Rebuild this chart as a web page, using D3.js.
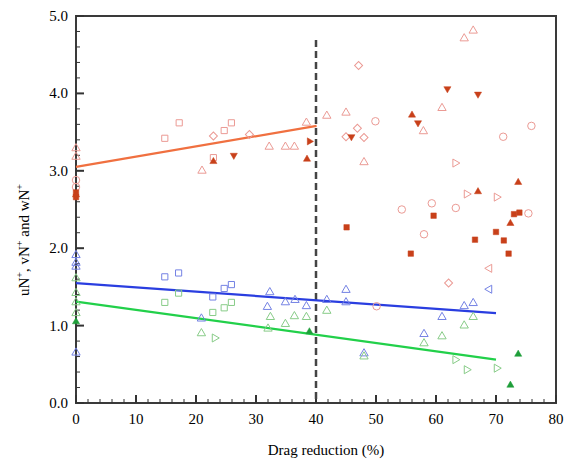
<!DOCTYPE html>
<html>
<head>
<meta charset="utf-8">
<script src="https://cdn.jsdelivr.net/npm/d3@7"></script>
<style>
  body { margin: 0; background: #fff; }
  text { font-family: "Liberation Serif", "Times New Roman", serif; }
</style>
</head>
<body>
<div class="main"></div>
<script>
// ---- data: [drag reduction %, value] ----
var redSquareOpen = [[14.8,3.42],[17.2,3.62],[24.7,3.52],[25.9,3.62],[22.9,3.17]];
var redDiamondOpen = [[22.9,3.45],[28.9,3.47],[47.1,4.36],[46.9,3.55],[45,3.44],[48,3.43],[62.1,1.55]];
var redCircleOpen = [[49.9,3.64],[71.2,3.44],[75.9,3.58],[59.3,2.58],[54.3,2.50],[63.3,2.52],[75.4,2.45],[58,2.18],[50.1,1.25],[0,2.88],[0,2.79]];
var redTriOpen = [[21,3.0],[32.2,3.31],[34.9,3.31],[36.4,3.31],[38.4,3.62],[41.8,3.71],[45,3.75],[48,3.11],[57.9,3.51],[61,3.81],[64.7,4.71],[66.2,4.81],[0,3.29],[0,3.18]];
var redRightOpen = [[63.2,3.10],[65.1,2.70],[70.1,2.66]];
var redLeftOpen = [[68.9,1.74]];
var redSquareFilled = [[59.6,2.42],[73,2.44],[73.9,2.46],[70,2.21],[66.5,2.11],[71.3,2.10],[72.1,1.93],[55.8,1.93],[45.1,2.27],[0,2.66],[0,2.72]];
var redUpFilled = [[22.9,3.12],[38.5,3.15],[56,3.72],[67,2.73],[73.7,2.85],[72.4,2.32],[0,2.69]];
var redDownFilled = [[26.3,3.2],[45.9,3.44],[57,3.62],[61.9,4.06],[67,3.99]];
var redRightFilled = [[38.9,3.38]];

var blueSquare = [[14.8,1.63],[17.1,1.68],[22.8,1.37],[24.7,1.48],[25.9,1.53]];
var blueTri = [[20.9,1.09],[32.3,1.43],[31.9,1.24],[34.9,1.30],[36.5,1.33],[38.4,1.25],[41.8,1.33],[45,1.46],[45,1.30],[48,0.64],[61,1.11],[58,0.89],[64.7,1.25],[66.2,1.29],[0,1.91],[0,1.81],[0,1.76],[0,0.65]];
var blueLeft = [[68.9,1.47]];

var greenSquare = [[14.8,1.30],[17.1,1.42],[22.8,1.17],[24.7,1.23],[25.9,1.30]];
var greenTri = [[20.9,0.90],[32.4,1.11],[36.4,1.12],[38.4,1.11],[41.8,1.19],[34.9,1.02],[32,0.96],[61,0.86],[58,0.77],[64.7,1.00],[66.2,1.11],[48,0.60],[0,1.61],[0,1.42],[0,1.30],[0,1.16]];
var greenRight = [[23.1,0.84],[63.2,0.56],[65.1,0.43],[70.1,0.45]];
var greenFilled = [[38.9,0.92],[73.7,0.63],[72.4,0.23],[0,1.05]];

// fitted lines
var redFit = [[0,3.05],[40.1,3.58]];
var blueFit = [[0,1.55],[70,1.16]];
var greenFit = [[0,1.31],[70,0.56]];
var dividerX = 40, dividerTop = 4.69;

var xTicks = [0,10,20,30,40,50,60,70,80];
var yTicks = [0,1,2,3,4,5];

var width = 567, height = 463;
var svg = d3.select("div.main").append("svg")
  .attr("width", width).attr("height", height);

var x = d3.scaleLinear().domain([0,80]).range([76,556]);
var y = d3.scaleLinear().domain([0,5]).range([403,16]);

// frame
svg.append("rect")
  .attr("x", x(0)).attr("y", y(5))
  .attr("width", x(80)-x(0)).attr("height", y(0)-y(5))
  .attr("fill", "none").attr("stroke", "#3a3a3a").attr("stroke-width", 2);

// ticks (inward)
var gx = svg.append("g").attr("transform", "translate(0," + y(0) + ")");
gx.selectAll("line.minor").data(d3.range(0, 80.1, 2)).enter().append("line")
  .attr("x1", x).attr("x2", x).attr("y1", 0)
  .attr("y2", function(d) { return d % 10 == 0 ? -8 : -4; })
  .attr("stroke", "#333").attr("stroke-width", function(d) { return d % 10 == 0 ? 2 : 1; });
gx.selectAll("text").data(xTicks).enter().append("text")
  .attr("x", x).attr("y", 21)
  .attr("text-anchor", "middle")
  .style("font-size", "15px")
  .text(function(d) { return d; });

var gy = svg.append("g").attr("transform", "translate(" + x(0) + ",0)");
gy.selectAll("line").data(d3.range(0, 50.1, 2)).enter().append("line")
  .attr("y1", function(d) { return y(d/10); }).attr("y2", function(d) { return y(d/10); })
  .attr("x1", 0)
  .attr("x2", function(d) { return d % 10 == 0 ? 8 : 4; })
  .attr("stroke", "#333").attr("stroke-width", function(d) { return d % 10 == 0 ? 2 : 1; });
gy.selectAll("text").data(yTicks).enter().append("text")
  .attr("x", -8).attr("y", function(d) { return y(d) + 5; })
  .attr("text-anchor", "end")
  .style("font-size", "15px")
  .text(function(d) { return d.toFixed(1); });

// axis titles
svg.append("text")
  .attr("x", 326).attr("y", 455)
  .attr("text-anchor", "middle")
  .style("font-size", "15px")
  .text("Drag reduction (%)");

var yt = svg.append("text")
  .attr("transform", "translate(29,240) rotate(-90)")
  .attr("text-anchor", "middle")
  .style("font-size", "15px");
yt.append("tspan").text("uN");
yt.append("tspan").attr("dy", -6).style("font-size", "10px").text("+");
yt.append("tspan").attr("dy", 6).text(", vN");
yt.append("tspan").attr("dy", -6).style("font-size", "10px").text("+");
yt.append("tspan").attr("dy", 6).text(" and wN");
yt.append("tspan").attr("dy", -6).style("font-size", "10px").text("+");

// divider
svg.append("line")
  .attr("x1", x(dividerX)).attr("x2", x(dividerX))
  .attr("y1", y(dividerTop)).attr("y2", y(0))
  .attr("stroke", "#444").attr("stroke-width", 2.5)
  .attr("stroke-dasharray", "7,4");

// fit lines
var line = d3.line().x(function(d) { return x(d[0]); }).y(function(d) { return y(d[1]); });
[[redFit, "#f07040"], [blueFit, "#2a3ee0"], [greenFit, "#22d04a"]].forEach(function(p) {
  svg.append("path").datum(p[0]).attr("d", line)
    .attr("fill", "none").attr("stroke", p[1]).attr("stroke-width", 2.2);
});

// markers
var lightRed = "#eb9a94", darkRed = "#c8401a", blue = "#7482e4", green = "#88cc88", darkGreen = "#1f9e3a";
function plot(data, type, size, rot, color, filled) {
  svg.append("g").selectAll("path").data(data).enter().append("path")
    .attr("d", d3.symbol().type(type).size(size))
    .attr("transform", function(d) { return "translate(" + x(d[0]) + "," + y(d[1]) + ") rotate(" + rot + ")"; })
    .attr("fill", filled ? color : "none")
    .attr("stroke", color)
    .attr("stroke-width", filled ? 0.5 : 1);
}
plot(redSquareOpen, d3.symbolSquare, 38, 0, lightRed, false);
plot(redDiamondOpen, d3.symbolSquare, 32, 45, lightRed, false);
plot(redCircleOpen, d3.symbolCircle, 44, 0, lightRed, false);
plot(redTriOpen, d3.symbolTriangle, 30, 0, lightRed, false);
plot(redRightOpen, d3.symbolTriangle, 28, 90, lightRed, false);
plot(redLeftOpen, d3.symbolTriangle, 28, -90, lightRed, false);
plot(redSquareFilled, d3.symbolSquare, 30, 0, darkRed, true);
plot(redUpFilled, d3.symbolTriangle, 22, 0, darkRed, true);
plot(redDownFilled, d3.symbolTriangle, 22, 180, darkRed, true);
plot(redRightFilled, d3.symbolTriangle, 22, 90, darkRed, true);
plot(blueSquare, d3.symbolSquare, 38, 0, blue, false);
plot(blueTri, d3.symbolTriangle, 30, 0, blue, false);
plot(blueLeft, d3.symbolTriangle, 28, -90, blue, false);
plot(greenSquare, d3.symbolSquare, 38, 0, green, false);
plot(greenTri, d3.symbolTriangle, 30, 0, green, false);
plot(greenRight, d3.symbolTriangle, 28, 90, green, false);
plot(greenFilled, d3.symbolTriangle, 22, 0, darkGreen, true);
</script>
</body>
</html>
